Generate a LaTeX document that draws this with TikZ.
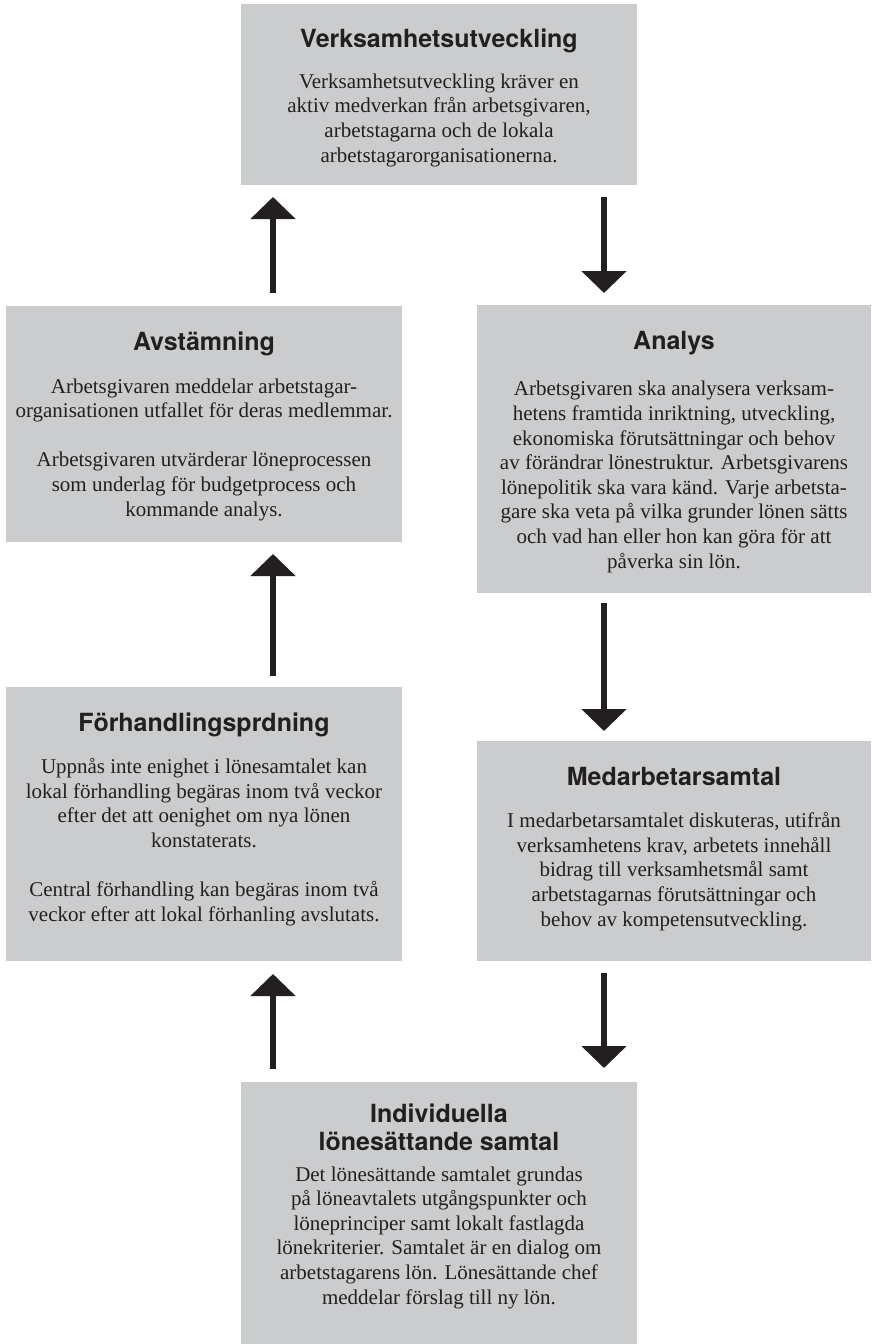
\documentclass[tikz,border=0pt]{standalone}
\usepackage{fontspec}
\setmainfont{Liberation Serif}
\newfontfamily\hfont{TeX Gyre Heros}
\usetikzlibrary{arrows.meta,calc}
\definecolor{boxgray}{RGB}{203,204,206}
\definecolor{ink}{RGB}{35,31,32}
\begin{document}
\begin{tikzpicture}[x=1pt,y=-1pt,
  box/.style={rectangle,fill=boxgray,draw=none,inner sep=0pt,outer sep=0pt},
  ttl/.style={anchor=base,inner sep=0pt,text=ink,align=center,font=\hfont\bfseries\fontsize{25}{27.5}\selectfont},
  body/.style={anchor=base,inner sep=0pt,text=ink,align=center,font=\fontsize{21}{24.6}\selectfont},
  arr/.style={draw=ink,line width=6pt,-{Triangle[width=44pt,length=22pt]}}]
\useasboundingbox[fill=white] (0,0) rectangle (871,1344);
% boxes
\node[box,minimum width=396pt,minimum height=181pt] (top) at (439,94.5) {};
\node[box,minimum width=396pt,minimum height=236pt] (avst) at (204,424) {};
\node[box,minimum width=394pt,minimum height=288pt] (analys) at (674,449) {};
\node[box,minimum width=396pt,minimum height=274pt] (forh) at (204,824) {};
\node[box,minimum width=394pt,minimum height=220pt] (medarb) at (674,851) {};
\node[box,minimum width=396pt,minimum height=262pt] (indiv) at (439,1213) {};
% texts (anchor base = baseline of the last line)
\node[ttl] (topT) at (439,47) {Verksamhetsutveckling};
\node[body] (topB) at (439,162) {Verksamhetsutveckling kräver en\\aktiv medverkan från arbetsgivaren,\\arbetstagarna och de lokala\\arbetstagarorganisationerna.};
\node[ttl] (avstT) at (204,350) {Avstämning};
\node[body] (avstB) at (204,516) {Arbetsgivaren meddelar arbetstagar-\\organisationen utfallet för deras medlemmar.\\[24.6pt]Arbetsgivaren utvärderar löneprocessen\\som underlag för budgetprocess och\\kommande analys.};
\node[ttl] (analysT) at (674,349) {Analys};
\node[body] (analysB) at (674,568) {Arbetsgivaren ska analysera verksam-\\hetens framtida inriktning, utveckling,\\ekonomiska förutsättningar och behov\\av förändrar lönestruktur. Arbetsgivarens\\lönepolitik ska vara känd. Varje arbetsta-\\gare ska veta på vilka grunder lönen sätts\\och vad han eller hon kan göra för att\\påverka sin lön.};
\node[ttl] (forhT) at (204,731) {Förhandlingsprdning};
\node[body] (forhB) at (204,921) {Uppnås inte enighet i lönesamtalet kan\\lokal förhandling begäras inom två veckor\\efter det att oenighet om nya lönen\\konstaterats.\\[24.6pt]Central förhandling kan begäras inom två\\veckor efter att lokal förhanling avslutats.};
\node[ttl] (medarbT) at (674,785) {Medarbetarsamtal};
\node[body] (medarbB) at (674,926) {I medarbetarsamtalet diskuteras, utifrån\\verksamhetens krav, arbetets innehåll\\bidrag till verksamhetsmål samt\\arbetstagarnas förutsättningar och\\behov av kompetensutveckling.};
\node[ttl] (indivT) at (439,1150) {Individuella\\lönesättande samtal};
\node[body] (indivB) at (439,1304) {Det lönesättande samtalet grundas\\på löneavtalets utgångspunkter och\\löneprinciper samt lokalt fastlagda\\lönekriterier. Samtalet är en dialog om\\arbetstagarens lön. Lönesättande chef\\meddelar förslag till ny lön.};
% arrow columns
\coordinate (xl) at (273,0);
\coordinate (xr) at (604,0);
\draw[arr] ($(avst.north -| xl)+(0,-13)$) -- ($(top.south -| xl)+(0,12)$);
\draw[arr] ($(top.south -| xr)+(0,12)$) -- ($(analys.north -| xr)+(0,-12)$);
\draw[arr] ($(forh.north -| xl)+(0,-11)$) -- ($(avst.south -| xl)+(0,12)$);
\draw[arr] ($(analys.south -| xr)+(0,10)$) -- ($(medarb.north -| xr)+(0,-10)$);
\draw[arr] ($(indiv.north -| xl)+(0,-13)$) -- ($(forh.south -| xl)+(0,13)$);
\draw[arr] ($(medarb.south -| xr)+(0,12)$) -- ($(indiv.north -| xr)+(0,-14)$);
\end{tikzpicture}
\end{document}
